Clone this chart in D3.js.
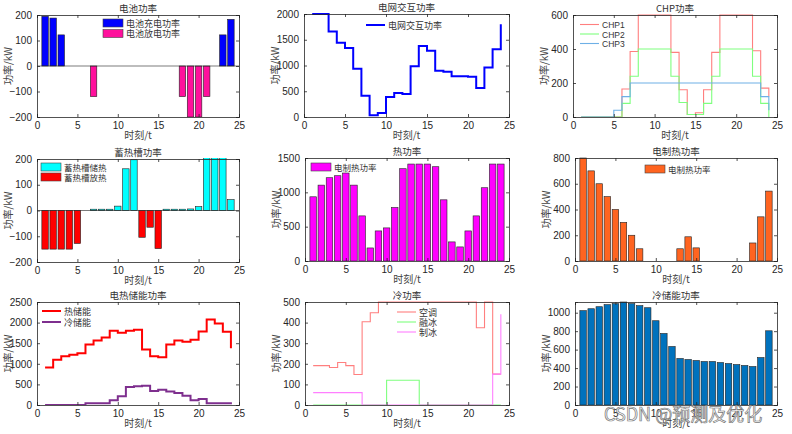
<!DOCTYPE html>
<html><head><meta charset="utf-8">
<script src="https://cdn.jsdelivr.net/npm/d3@7"></script>
<style>
body{margin:0;background:#fff;}
text{font-family:"Liberation Sans",Arial,sans-serif;}
.cn{font-family:"Noto Sans CJK SC","Noto Sans",sans-serif;}
</style></head><body>
<svg id="c" width="792" height="434"></svg>
<script>
const hours = d3.range(1, 25);
const xTicks = [0, 5, 10, 15, 20, 25];
// 1 battery
const batCharge = [195,188,122,0,0,0,0,0,0,0,0,0,0,0,0,0,0,0,0,0,0,0,122,183];
const batDischarge = [0,0,0,0,0,0,-120,0,0,0,0,0,0,0,0,0,0,-120,-200,-200,-120,0,0,0];
// 2 grid
const gridPower = [2000,2000,1660,1440,1340,935,415,35,80,390,465,445,985,1380,1285,900,880,790,790,780,565,960,1315,1800];
// 3 CHP
const chp1 = [0,0,0,0,0,165,385,600,600,600,600,380,160,15,25,160,380,600,600,600,600,390,170,120];
const chp2 = [0,0,0,0,0,80,240,400,400,400,400,240,85,15,15,80,240,400,400,400,400,240,80,0];
const chp3 = [0,0,0,0,40,120,200,200,200,200,200,200,200,200,200,200,200,200,200,200,200,200,120,40];
// 4 heat storage tank
const tankStore = [0,0,0,0,0,0,5,5,5,17,162,197,0,0,0,5,5,5,6,15,250,250,250,42];
const tankRelease = [-150,-150,-150,-150,-128,0,0,0,0,0,0,0,-104,-65,-148,0,0,0,0,0,0,0,0,0];
// 5 heat power
const heatPower = [935,1105,1213,1242,1281,1105,657,190,438,482,779,1344,1412,1412,1412,1373,891,278,205,438,657,1067,1412,1412];
// 6 electric heating
const elecHeat = [800,700,600,500,400,300,200,95,0,0,0,0,95,188,102,0,0,0,0,0,0,140,343,543];
// 7 electro-thermal storage
const heatStorage = [909,1096,1185,1218,1258,1469,1567,1640,1802,1753,1802,1826,1347,1185,1161,1469,1567,1534,1583,1786,2078,1981,1778,1380];
const coldStorage = [0,0,0,0,0,40,40,40,114,211,438,455,470,341,373,325,292,227,114,146,40,40,40,20];
// 8 cooling
const aircon = [191,191,182,206,191,148,404,448,500,500,500,500,500,500,500,500,500,500,500,500,375,500,150,150];
const iceMelt = [0,0,0,0,0,0,0,0,0,120,120,120,120,0,0,0,0,0,0,0,0,0,0,0];
const iceMake = [60,60,60,60,60,60,0,0,0,0,0,0,0,0,0,0,0,0,0,0,0,0,150,440];
// 9 cold storage power
const coldPower = [1022,1043,1065,1087,1098,1116,1098,1076,1054,913,775,634,504,493,482,471,471,460,449,438,428,417,514,804];

const svg = d3.select("#c");
const AX = "#262626";
let clipId = 0;

function panel(o){
  const g = svg.append("g");
  const x = d3.scaleLinear().domain([0,25]).range([o.x0,o.x1]);
  const y = d3.scaleLinear().domain(o.yd).range([o.y1,o.y0]);
  const id = "clip"+(clipId++);
  svg.append("clipPath").attr("id",id).append("rect")
    .attr("x",o.x0).attr("y",o.y0-1).attr("width",o.x1-o.x0).attr("height",o.y1-o.y0+1);
  g.append("rect").attr("x",o.x0).attr("y",o.y0).attr("width",o.x1-o.x0).attr("height",o.y1-o.y0).attr("fill","#fff");
  const pg = g.append("g").attr("clip-path",`url(#${id})`);
  const xa = g.append("g").attr("transform",`translate(0,${o.y1})`)
    .call(d3.axisBottom(x).tickValues(xTicks).tickSize(-3).tickPadding(5).tickFormat(d3.format("d")));
  const xt = g.append("g").attr("transform",`translate(0,${o.y0})`)
    .call(d3.axisTop(x).tickValues(xTicks).tickSize(-3).tickFormat(""));
  const ya = g.append("g").attr("transform",`translate(${o.x0},0)`)
    .call(d3.axisLeft(y).tickValues(o.yt).tickSize(-3).tickPadding(5).tickFormat(d3.format("d")));
  const yr = g.append("g").attr("transform",`translate(${o.x1},0)`)
    .call(d3.axisRight(y).tickValues(o.yt).tickSize(-3).tickFormat(""));
  [xa,xt,ya,yr].forEach(a=>{
    a.selectAll("path").attr("stroke",AX).attr("stroke-width",0.8);
    a.selectAll("line").attr("stroke",AX).attr("stroke-width",0.8);
    a.selectAll("text").attr("fill",AX).attr("font-size",10).attr("font-family","Liberation Sans, Arial, sans-serif");
  });
  g.append("text").attr("class","cn").attr("x",(o.x0+o.x1)/2).attr("y",o.y0-3)
    .attr("text-anchor","middle").attr("font-size",9.5).attr("fill","#333").text(o.title);
  g.append("text").attr("class","cn").attr("x",(o.x0+o.x1)/2).attr("y",o.y1+22)
    .attr("text-anchor","middle").attr("font-size",10).attr("fill","#444").text("时刻/t");
  g.append("text").attr("class","cn")
    .attr("transform",`translate(${o.x0-25},${(o.y0+o.y1)/2}) rotate(-90)`)
    .attr("text-anchor","middle").attr("font-size",10).attr("fill","#444").text("功率/kW");
  return {g, pg, x, y, o, xa, xt, ya, yr};
}

function bars(p, vals, color){
  const w = 0.8;
  p.pg.selectAll(null).data(vals.map((v,i)=>({h:hours[i],v})).filter(d=>d.v!==0))
    .join("rect")
    .attr("x",d=>p.x(d.h-w/2)).attr("width",d=>p.x(d.h+w/2)-p.x(d.h-w/2))
    .attr("y",d=>Math.min(p.y(d.v),p.y(0))).attr("height",d=>Math.abs(p.y(d.v)-p.y(0)))
    .attr("fill",color).attr("stroke","#222").attr("stroke-width",0.6);
}
function stairs(p, vals, color, lw){
  const line = d3.line().x((d,i)=>p.x(hours[i])).y(d=>p.y(d)).curve(d3.curveStepAfter);
  p.pg.append("path").attr("d",line(vals)).attr("fill","none").attr("stroke",color).attr("stroke-width",lw);
}
function frontAxes(p){
  [p.xa,p.xt,p.ya,p.yr].forEach(a=>a.raise());
}
function legendRect(p, x, y, items, fs){
  items.forEach((it,i)=>{
    const yy = y + i*it.dy;
    p.g.append("rect").attr("x",x).attr("y",yy-4).attr("width",20).attr("height",8)
      .attr("fill",it.c).attr("stroke","#444").attr("stroke-width",0.6);
    p.g.append("text").attr("class","cn").attr("x",x+23).attr("y",yy+3.5)
      .attr("font-size",fs||9).attr("fill","#333").text(it.t);
  });
}
function legendLine(p, x, y, items, lw, fs, lenL){
  const L = lenL||19;
  items.forEach((it,i)=>{
    const yy = y + i*it.dy;
    p.g.append("line").attr("x1",x).attr("x2",x+L).attr("y1",yy).attr("y2",yy)
      .attr("stroke",it.c).attr("stroke-width",lw);
    p.g.append("text").attr("class",it.latin?null:"cn").attr("x",x+L+3).attr("y",yy+3.5)
      .attr("font-size",fs||9).attr("fill","#333").text(it.t);
  });
}

// Panel 1
let p = panel({x0:37,x1:239,y0:15,y1:117,yd:[-200,200],yt:[-200,-100,0,100,200],title:"电池功率"});
bars(p, batCharge, "#0000ff");
bars(p, batDischarge, "#ff109c");
p.pg.append("line").attr("x1",p.x(0)).attr("x2",p.x(25)).attr("y1",p.y(0)).attr("y2",p.y(0)).attr("stroke","#222").attr("stroke-width",0.6);
frontAxes(p);
legendRect(p, 103, 23, [{t:"电池充电功率",c:"#0000ff",dy:10.5},{t:"电池放电功率",c:"#ff109c",dy:10.5}]);

// Panel 2
p = panel({x0:304,x1:509,y0:14,y1:117,yd:[0,2000],yt:[0,500,1000,1500,2000],title:"电网交互功率"});
stairs(p, gridPower, "#0000ff", 2);
frontAxes(p);
legendLine(p, 366, 25, [{t:"电网交互功率",c:"#0000ff",dy:10}], 2);

// Panel 3
p = panel({x0:573,x1:777,y0:15,y1:117,yd:[0,600],yt:[0,200,400,600],title:"CHP功率"});
stairs(p, chp1, "#ff7f7f", 1.1);
stairs(p, chp2, "#7fff7f", 1.1);
stairs(p, chp3, "#6eb0e6", 1.1);
frontAxes(p);
legendLine(p, 580, 24.5, [{t:"CHP1",c:"#ff7f7f",dy:9.5,latin:1},{t:"CHP2",c:"#7fff7f",dy:9.5,latin:1},{t:"CHP3",c:"#6eb0e6",dy:9.5,latin:1}], 1.1, 8.5);

// Panel 4
p = panel({x0:37,x1:239,y0:159,y1:262,yd:[-200,200],yt:[-200,-100,0,100,200],title:"蓄热槽功率"});
bars(p, tankStore, "#00ffff");
bars(p, tankRelease, "#ff0000");
p.pg.append("line").attr("x1",p.x(0)).attr("x2",p.x(25)).attr("y1",p.y(0)).attr("y2",p.y(0)).attr("stroke","#222").attr("stroke-width",0.6);
frontAxes(p);
legendRect(p, 41, 167, [{t:"蓄热槽储热",c:"#00ffff",dy:10},{t:"蓄热槽放热",c:"#ff0000",dy:10}], 8.5);

// Panel 5
p = panel({x0:305,x1:509,y0:158,y1:261,yd:[0,1500],yt:[0,500,1000,1500],title:"热功率"});
bars(p, heatPower, "#ff00ff");
frontAxes(p);
legendRect(p, 311, 167, [{t:"电制热功率",c:"#ff00ff",dy:10}], 8.5);

// Panel 6
p = panel({x0:575,x1:777,y0:158,y1:261,yd:[0,800],yt:[0,200,400,600,800],title:"电制热功率"});
bars(p, elecHeat, "#ff6420");
frontAxes(p);
legendRect(p, 645, 169, [{t:"电制热功率",c:"#ff6420",dy:10}], 8.5);

// Panel 7
p = panel({x0:37,x1:239,y0:302,y1:405,yd:[0,2500],yt:[0,500,1000,1500,2000,2500],title:"电热储能功率"});
stairs(p, heatStorage, "#ff0000", 2);
stairs(p, coldStorage, "#7e2f8e", 2);
frontAxes(p);
legendLine(p, 42, 311, [{t:"热储能",c:"#ff0000",dy:11},{t:"冷储能",c:"#7e2f8e",dy:11}], 2);

// Panel 8
p = panel({x0:305,x1:509,y0:302,y1:405,yd:[0,500],yt:[0,100,200,300,400,500],title:"冷功率"});
stairs(p, aircon, "#ff7f7f", 1.1);
stairs(p, iceMelt, "#7fff7f", 1.1);
stairs(p, iceMake, "#ff7fff", 1.1);
frontAxes(p);
legendLine(p, 397, 312, [{t:"空调",c:"#ff7f7f",dy:10},{t:"融冰",c:"#7fff7f",dy:10},{t:"制冰",c:"#ff7fff",dy:10}], 1.1, 9);

// Panel 9
p = panel({x0:575,x1:777,y0:302,y1:405,yd:[0,1116],yt:[0,200,400,600,800,1000],title:"冷储能功率"});
bars(p, coldPower, "#0072bd");
frontAxes(p);

// watermark
svg.append("text").attr("class","cn").attr("x",604).attr("y",421)
  .attr("font-size",18).attr("fill","#fff").attr("stroke","#777").attr("stroke-width",0.7)
  .text("CSDN @预测及优化");
</script></body></html>
